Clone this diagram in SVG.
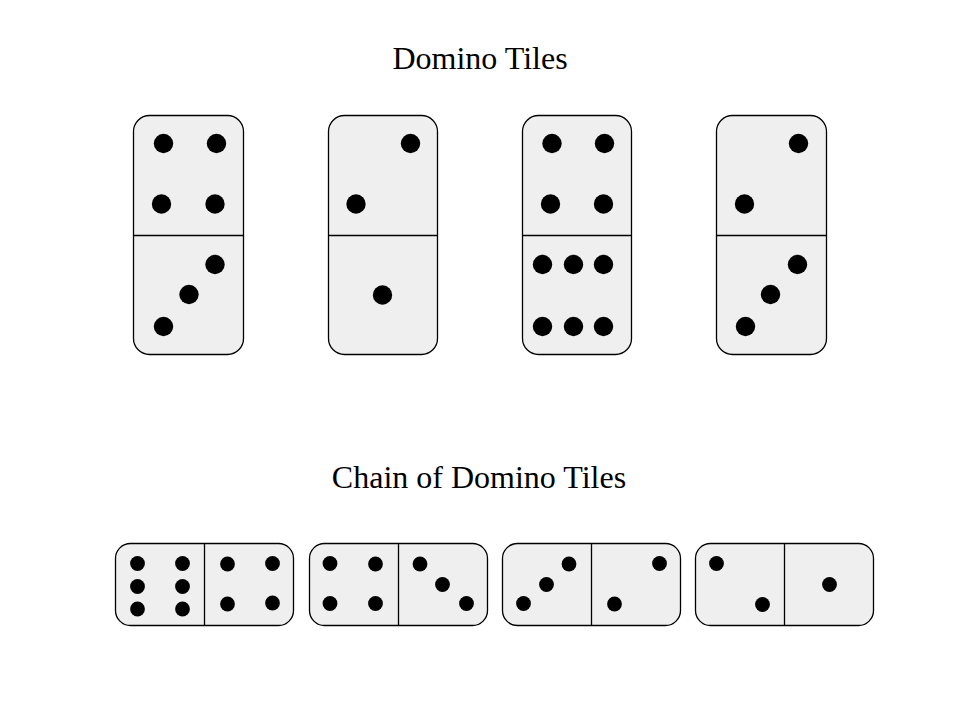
<svg xmlns="http://www.w3.org/2000/svg" width="960" height="720" viewBox="0 0 960 720">
<style>
.title{font-family:"Liberation Serif","DejaVu Serif",serif;font-size:32px;fill:#000;text-anchor:middle}
.tile{fill:#efefef;stroke:#000;stroke-width:1.3}
.div{stroke:#000;stroke-width:1.3}
.pip{fill:#000}
</style>
<rect width="960" height="720" fill="#fff"/>
<text class="title" x="480" y="69">Domino Tiles</text>
<text class="title" x="479" y="488">Chain of Domino Tiles</text>

<g id="tile-4-3">
<rect class="tile" x="133.5" y="115.5" width="110" height="239" rx="16"/>
<line class="div" x1="133.5" y1="235.5" x2="243.5" y2="235.5"/>
<g class="pip"><circle cx="163.5" cy="143.5" r="9.7"/><circle cx="216.5" cy="143.5" r="9.7"/><circle cx="161.5" cy="204" r="9.7"/><circle cx="215" cy="204" r="9.7"/><circle cx="215" cy="264.5" r="9.7"/><circle cx="189" cy="294.5" r="9.7"/><circle cx="163.5" cy="326.5" r="9.7"/></g>
</g>
<g id="tile-2-1">
<rect class="tile" x="328.5" y="115.5" width="109" height="239" rx="16"/>
<line class="div" x1="328.5" y1="235.5" x2="437.5" y2="235.5"/>
<g class="pip"><circle cx="410.5" cy="143.5" r="9.7"/><circle cx="356" cy="204" r="9.7"/><circle cx="382.5" cy="295" r="9.7"/></g>
</g>
<g id="tile-4-6">
<rect class="tile" x="522.5" y="115.5" width="109" height="239" rx="16"/>
<line class="div" x1="522.5" y1="235.5" x2="631.5" y2="235.5"/>
<g class="pip"><circle cx="552" cy="143.5" r="9.7"/><circle cx="604.5" cy="143.5" r="9.7"/><circle cx="550.5" cy="204" r="9.7"/><circle cx="603.5" cy="204" r="9.7"/><circle cx="542.5" cy="264.5" r="9.7"/><circle cx="573.5" cy="264.5" r="9.7"/><circle cx="603.5" cy="264.5" r="9.7"/><circle cx="542.5" cy="326.5" r="9.7"/><circle cx="573.5" cy="326.5" r="9.7"/><circle cx="603.5" cy="326.5" r="9.7"/></g>
</g>
<g id="tile-2-3">
<rect class="tile" x="716.5" y="115.5" width="110" height="239" rx="16"/>
<line class="div" x1="716.5" y1="235.5" x2="826.5" y2="235.5"/>
<g class="pip"><circle cx="798.5" cy="143.5" r="9.7"/><circle cx="744.5" cy="204" r="9.7"/><circle cx="797.5" cy="264.5" r="9.7"/><circle cx="770.5" cy="294.5" r="9.7"/><circle cx="745.5" cy="326.5" r="9.7"/></g>
</g>

<g id="chain-6-4">
<rect class="tile" x="115.5" y="543.5" width="178" height="82" rx="15"/>
<line class="div" x1="204.5" y1="543.5" x2="204.5" y2="625.5"/>
<g class="pip"><circle cx="137.5" cy="563.5" r="7.4"/><circle cx="182.5" cy="563.5" r="7.4"/><circle cx="137.5" cy="586.5" r="7.4"/><circle cx="182.5" cy="586.5" r="7.4"/><circle cx="137.5" cy="609" r="7.4"/><circle cx="182.5" cy="609" r="7.4"/><circle cx="227.5" cy="564" r="7.4"/><circle cx="272.5" cy="563.5" r="7.4"/><circle cx="227.5" cy="604" r="7.4"/><circle cx="272.5" cy="603" r="7.4"/></g>
</g>
<g id="chain-4-3">
<rect class="tile" x="309.5" y="543.5" width="178" height="82" rx="15"/>
<line class="div" x1="398.5" y1="543.5" x2="398.5" y2="625.5"/>
<g class="pip"><circle cx="330" cy="563.5" r="7.4"/><circle cx="375.5" cy="564" r="7.4"/><circle cx="330" cy="603.5" r="7.4"/><circle cx="375.5" cy="603.5" r="7.4"/><circle cx="420" cy="564" r="7.4"/><circle cx="442.5" cy="584.5" r="7.4"/><circle cx="466.5" cy="603.5" r="7.4"/></g>
</g>
<g id="chain-3-2">
<rect class="tile" x="502.5" y="543.5" width="178" height="82" rx="15"/>
<line class="div" x1="591.5" y1="543.5" x2="591.5" y2="625.5"/>
<g class="pip"><circle cx="523.5" cy="603.5" r="7.4"/><circle cx="546.5" cy="584.5" r="7.4"/><circle cx="569" cy="564" r="7.4"/><circle cx="614.5" cy="604" r="7.4"/><circle cx="659.5" cy="563.5" r="7.4"/></g>
</g>
<g id="chain-2-1">
<rect class="tile" x="695.5" y="543.5" width="178" height="82" rx="15"/>
<line class="div" x1="784.5" y1="543.5" x2="784.5" y2="625.5"/>
<g class="pip"><circle cx="716.5" cy="563.5" r="7.4"/><circle cx="762.5" cy="604.5" r="7.4"/><circle cx="829.5" cy="584.5" r="7.4"/></g>
</g>
<g id="connectors"/>
</svg>
